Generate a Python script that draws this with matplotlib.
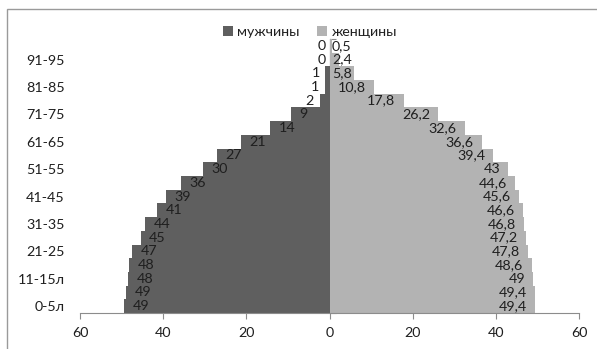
import matplotlib.pyplot as plt
from matplotlib.patches import Rectangle

# возрастные группы снизу вверх
age_groups = ["0-5л", "6-10л", "11-15л", "16-20", "21-25", "26-30", "31-35", "36-40",
              "41-45", "46-50", "51-55", "56-60", "61-65", "66-70", "71-75", "76-80",
              "81-85", "86-90", "91-95", "96-100"]
men = [49.4, 48.9, 48.4, 48.2, 47.4, 45.4, 44.3, 41.4, 39.4, 35.7,
       30.4, 27.0, 21.2, 14.2, 9.2, 2.2, 1.2, 1.0, 0, 0]
men_labels = ["49", "49", "48", "48", "47", "45", "44", "41", "39", "36",
              "30", "27", "21", "14", "9", "2", "1", "1", "0", "0"]
women = [49.4, 49.4, 49, 48.6, 47.8, 47.2, 46.8, 46.6, 45.6, 44.6,
         43, 39.4, 36.6, 32.6, 26.2, 17.8, 10.8, 5.8, 2.4, 0.5]
x_ticks = [-60, -40, -20, 0, 20, 40, 60]

plt.rcParams['font.family'] = ['Lato', 'DejaVu Sans']
FS = 10.3
TXT = '#1f1f1f'
AXC = '#8c8c8c'

fig = plt.figure(figsize=(5.97, 3.49), dpi=100)
ax = fig.add_axes([80 / 597, 1 - 313 / 349, 499 / 597, 274 / 349])

y = list(range(len(age_groups)))
neg_men = [-v for v in men]
ax.barh(y, neg_men, height=1.0, color='#5f5f5f', label='мужчины')
ax.barh(y, women, height=1.0, color='#b3b3b3', label='женщины')

# подписи данных
for i in y:
    m = men[i]
    if m >= 5:
        ax.text(-m + 2.0, i, men_labels[i], ha='left', va='center', fontsize=FS, color=TXT)
    else:
        ax.text(-(1.3 * m + 1.0), i, men_labels[i], ha='right', va='center', fontsize=FS, color=TXT)
    w = women[i]
    lab = ("%g" % w).replace('.', ',')
    if w >= 8:
        ax.text(w - 2.0, i, lab, ha='right', va='center', fontsize=FS, color=TXT)
    else:
        ax.text(0.6, i, lab, ha='left', va='center', fontsize=FS, color=TXT)

ax.set_xlim(-60, 60)
ax.set_ylim(-0.5, len(age_groups) - 0.5)
ax.set_xticks(x_ticks)
ax.set_xticklabels([str(abs(t)) for t in x_ticks], fontsize=FS, color=TXT)
ax.tick_params(axis='x', direction='out', length=4, color=AXC, pad=6)

ax.set_yticks(y[::2])
ax.set_yticklabels(age_groups[::2], fontsize=FS, color=TXT)
ax.tick_params(axis='y', length=0, pad=11)

for s in ['top', 'right', 'left']:
    ax.spines[s].set_visible(False)
ax.spines['bottom'].set_color(AXC)

# вертикальная ось в нуле
sec = ax.secondary_yaxis(0.5)
sec.set_yticks([i - 0.5 for i in range(len(age_groups) + 1)])
sec.set_yticklabels([])
sec.tick_params(axis='y', direction='out', length=4, color=AXC)
sec.spines['left'].set_color(AXC)

fig.legend(loc='center', bbox_to_anchor=(310 / 597, 1 - 32 / 349), ncol=2, frameon=False,
           fontsize=FS, handlelength=0.7, handleheight=0.7, handletextpad=0.3,
           columnspacing=1.2, borderpad=0, labelcolor=TXT)

# рамка диаграммы
fig.patches.append(Rectangle((7 / 597, -0.1), 1.2, 1 - 9 / 349 + 0.1, transform=fig.transFigure,
                             fill=False, edgecolor='#9a9a9a', linewidth=1.0))

fig.savefig('out.png', dpi=100)
